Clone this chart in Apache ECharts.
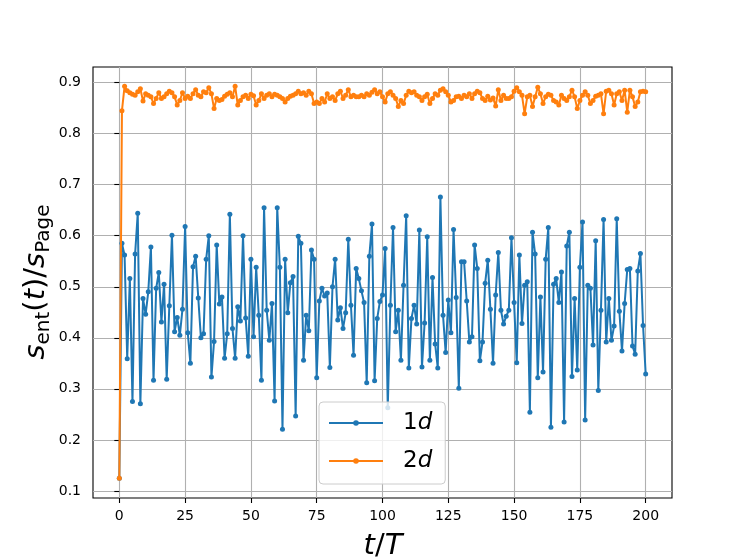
<!DOCTYPE html>
<html>
<head>
<meta charset="utf-8">
<script src="https://cdn.jsdelivr.net/npm/echarts@6/dist/echarts.min.js"></script>
<style>
  html, body { margin: 0; padding: 0; background: #ffffff; }
  #chart { width: 747px; height: 560px; }
</style>
</head>
<body>
<div id="chart"></div>
<script>
// ---- data (t = array index, t/T = 0..200) ----
var seriesNames = ['1d', '2d'];
var xTicks = [0, 25, 50, 75, 100, 125, 150, 175, 200];
var yTicks = [0.1, 0.2, 0.3, 0.4, 0.5, 0.6, 0.7, 0.8, 0.9];

var values1d = [
  0.125, 0.585, 0.562, 0.359, 0.516, 0.275, 0.564, 0.644, 0.271, 0.477,
  0.446, 0.490, 0.578, 0.317, 0.497, 0.528, 0.431, 0.505, 0.319, 0.463,
  0.601, 0.412, 0.440, 0.405, 0.456, 0.618, 0.410, 0.350, 0.539, 0.560,
  0.478, 0.400, 0.408, 0.554, 0.600, 0.323, 0.393, 0.582, 0.466, 0.480,
  0.360, 0.408, 0.642, 0.418, 0.360, 0.461, 0.433, 0.600, 0.439, 0.364,
  0.554, 0.402, 0.538, 0.444, 0.317, 0.655, 0.454, 0.395, 0.467, 0.276,
  0.655, 0.538, 0.221, 0.554, 0.449, 0.508, 0.520, 0.247, 0.599, 0.585,
  0.356, 0.444, 0.414, 0.572, 0.554, 0.322, 0.472, 0.497, 0.482, 0.488,
  0.342, 0.500, 0.554, 0.435, 0.459, 0.418, 0.449, 0.593, 0.464, 0.366,
  0.536, 0.516, 0.492, 0.469, 0.312, 0.560, 0.623, 0.316, 0.438, 0.471,
  0.484, 0.575, 0.263, 0.464, 0.616, 0.412, 0.454, 0.356, 0.503, 0.639,
  0.341, 0.438, 0.464, 0.427, 0.611, 0.343, 0.429, 0.598, 0.356, 0.518,
  0.388, 0.341, 0.676, 0.444, 0.371, 0.474, 0.410, 0.612, 0.479, 0.301,
  0.549, 0.549, 0.472, 0.392, 0.402, 0.582, 0.536, 0.355, 0.392, 0.507,
  0.552, 0.456, 0.350, 0.484, 0.567, 0.454, 0.427, 0.442, 0.454, 0.596,
  0.469, 0.351, 0.562, 0.428, 0.503, 0.510, 0.254, 0.607, 0.564, 0.322,
  0.480, 0.333, 0.554, 0.616, 0.225, 0.505, 0.516, 0.469, 0.529, 0.235,
  0.580, 0.607, 0.324, 0.477, 0.337, 0.538, 0.627, 0.239, 0.503, 0.497,
  0.386, 0.590, 0.297, 0.454, 0.632, 0.392, 0.477, 0.395, 0.423, 0.633,
  0.452, 0.374, 0.467, 0.534, 0.536, 0.384, 0.368, 0.531, 0.565, 0.424,
  0.329
];

var values2d = [
  0.125, 0.845, 0.893, 0.884, 0.880, 0.877, 0.875, 0.882, 0.888, 0.864,
  0.878, 0.875, 0.872, 0.859, 0.869, 0.880, 0.869, 0.872, 0.878, 0.883,
  0.880, 0.872, 0.856, 0.865, 0.880, 0.869, 0.873, 0.869, 0.878, 0.886,
  0.875, 0.872, 0.882, 0.880, 0.890, 0.878, 0.849, 0.869, 0.865, 0.867,
  0.873, 0.877, 0.880, 0.872, 0.893, 0.856, 0.865, 0.872, 0.875, 0.869,
  0.877, 0.874, 0.856, 0.865, 0.878, 0.869, 0.875, 0.878, 0.872, 0.877,
  0.875, 0.872, 0.869, 0.862, 0.869, 0.873, 0.875, 0.878, 0.883, 0.878,
  0.880, 0.875, 0.883, 0.878, 0.859, 0.862, 0.859, 0.869, 0.862, 0.878,
  0.869, 0.872, 0.865, 0.878, 0.883, 0.869, 0.875, 0.886, 0.872, 0.875,
  0.872, 0.872, 0.875, 0.872, 0.878, 0.875, 0.881, 0.886, 0.878, 0.882,
  0.872, 0.862, 0.878, 0.882, 0.875, 0.869, 0.853, 0.865, 0.859, 0.875,
  0.883, 0.880, 0.882, 0.875, 0.872, 0.865, 0.872, 0.877, 0.859, 0.869,
  0.878, 0.875, 0.885, 0.888, 0.882, 0.875, 0.862, 0.865, 0.872, 0.873,
  0.869, 0.875, 0.872, 0.878, 0.869, 0.878, 0.883, 0.880, 0.869, 0.865,
  0.873, 0.866, 0.870, 0.854, 0.886, 0.865, 0.875, 0.869, 0.869, 0.872,
  0.883, 0.890, 0.882, 0.875, 0.839, 0.872, 0.875, 0.853, 0.872, 0.891,
  0.878, 0.859, 0.872, 0.877, 0.875, 0.865, 0.862, 0.856, 0.875, 0.869,
  0.865, 0.872, 0.885, 0.872, 0.849, 0.865, 0.875, 0.882, 0.875, 0.859,
  0.865, 0.873, 0.875, 0.878, 0.839, 0.883, 0.885, 0.878, 0.856, 0.878,
  0.882, 0.865, 0.885, 0.842, 0.885, 0.872, 0.853, 0.862, 0.882, 0.883,
  0.882
];

function toPairs(arr) {
  return arr.map(function (v, i) { return [i, v]; });
}

var FONT = 'DejaVu Sans';
var chart = echarts.init(document.getElementById('chart'), null, { renderer: 'canvas' });

var option = {
  animation: false,
  backgroundColor: '#ffffff',
  grid: {
    left: 93, top: 67, width: 579, height: 431,
    show: true, borderColor: '#000000', borderWidth: 1.1,
    backgroundColor: 'transparent', containLabel: false
  },
  xAxis: {
    type: 'value', min: -10, max: 210,
    axisLine: { show: false },
    axisTick: { show: true, inside: false, length: 5, customValues: xTicks,
                lineStyle: { color: '#000', width: 1.1 } },
    axisLabel: { show: true, customValues: xTicks, margin: 11,
                 color: '#000', fontFamily: FONT, fontSize: 14 },
    splitLine: { show: true, lineStyle: { color: '#b0b0b0', width: 1.1 } }
  },
  yAxis: {
    type: 'value', min: 0.0862, max: 0.9305,
    axisLine: { show: false },
    axisTick: { show: true, inside: false, length: 5, customValues: yTicks,
                lineStyle: { color: '#000', width: 1.1 } },
    axisLabel: { show: true, customValues: yTicks, margin: 12,
                 color: '#000', fontFamily: FONT, fontSize: 14,
                 formatter: function (v) { return v.toFixed(1); } },
    splitLine: { show: true, lineStyle: { color: '#b0b0b0', width: 1.1 } }
  },
  legend: {
    orient: 'vertical',
    left: 319, top: 402,
    padding: [8, 13, 10, 9],
    itemGap: 12,
    itemWidth: 54, itemHeight: 7,
    backgroundColor: 'rgba(255,255,255,0.8)',
    borderColor: '#cccccc', borderWidth: 1, borderRadius: 4,
    lineStyle: { width: 2 },
    data: seriesNames,
    formatter: function (name) {
      return '{r|' + name.slice(0, 1) + '}{i|' + name.slice(1) + '}';
    },
    textStyle: {
      fontFamily: FONT, fontSize: 23, color: '#000', lineHeight: 26,
      rich: {
        r: { fontFamily: FONT, fontSize: 23, color: '#000', padding: [0, 0, 0, 15] },
        i: { fontFamily: FONT, fontSize: 23, fontStyle: 'italic', color: '#000' }
      }
    }
  },
  series: [
    {
      name: seriesNames[0], type: 'line', data: toPairs(values1d),
      symbol: 'circle', symbolSize: 5, showSymbol: true,
      itemStyle: { color: '#1f77b4' },
      lineStyle: { color: '#1f77b4', width: 2 },
      z: 2
    },
    {
      name: seriesNames[1], type: 'line', data: toPairs(values2d),
      symbol: 'circle', symbolSize: 5, showSymbol: true,
      itemStyle: { color: '#ff7f0e' },
      lineStyle: { color: '#ff7f0e', width: 2 },
      z: 3
    }
  ],
  graphic: [
    {
      type: 'text', x: 383, y: 546,
      style: {
        text: '{i|t}{r|/}{i|T}',
        align: 'center', verticalAlign: 'middle',
        rich: {
          i: { fontFamily: FONT, fontSize: 29, fontStyle: 'italic', fill: '#000' },
          r: { fontFamily: FONT, fontSize: 29, fill: '#000' }
        }
      }
    },
    {
      type: 'text', x: 36, y: 282, rotation: Math.PI / 2,
      style: {
        text: '{i|s}{sub|ent}{r|(}{i|t}{r|)/}{i|s}{sub|Page}',
        align: 'center', verticalAlign: 'middle',
        rich: {
          i: { fontFamily: FONT, fontSize: 29, fontStyle: 'italic', fill: '#000', lineHeight: 34 },
          r: { fontFamily: FONT, fontSize: 29, fill: '#000', lineHeight: 34 },
          sub: { fontFamily: FONT, fontSize: 20, fill: '#000', padding: [16, 0, 0, 0] }
        }
      }
    }
  ]
};

chart.setOption(option);
</script>
</body>
</html>
